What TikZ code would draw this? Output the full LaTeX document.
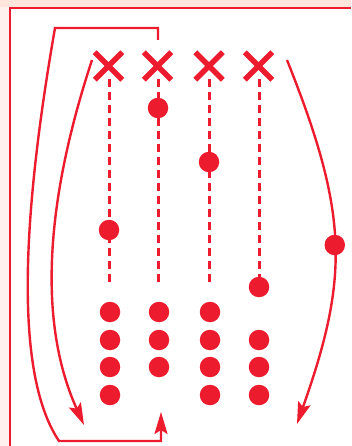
\documentclass[tikz,border=0pt]{standalone}
\usetikzlibrary{shapes.misc,arrows.meta}
\definecolor{myred}{RGB}{237,27,46}
\definecolor{peachT}{RGB}{255,229,220}
\definecolor{peachL}{RGB}{255,241,237}
\tikzset{
  dot/.style={circle, fill=myred, minimum size=20.5pt, inner sep=0pt},
  xmark/.style={cross out, draw=myred, line width=5.5pt, minimum size=22pt, inner sep=0pt},
  dashline/.style={draw=myred, line width=3pt, dash pattern=on 8pt off 5pt},
  arcline/.style={draw=myred, line width=2.4pt, -{Stealth[length=22pt,width=13pt,inset=4pt]}},
}
\begin{document}
\begin{tikzpicture}[x=1pt,y=-1pt]
\useasboundingbox (0,0) rectangle (351,446);
\fill[peachL] (0,0) rectangle (351,446);
\fill[peachT] (0,0) rectangle (351,7.5);
\fill[white] (10,8) rectangle (351,446);
\draw[myred, line width=1.4pt] (10,446) -- (10,8) -- (351,8);

% crosses
\node[xmark] (x1) at (108.5,66) {};
\node[xmark] (x2) at (157.5,66) {};
\node[xmark] (x3) at (209,66) {};
\node[xmark] (x4) at (258.5,66) {};

% dashed ends
\coordinate (e1) at (109,285);
\coordinate (e2) at (158,285);
\coordinate (e3) at (209,285);
\coordinate (e4) at (259,287);
\draw[dashline] (109,79) -- (e1);
\draw[dashline] (158,79) -- (e2);
\draw[dashline] (209,79) -- (e3);
\draw[dashline] (259,79) -- (e4);

% dots on lines
\node[dot] (d1) at (109,230) {};
\node[dot] (d2) at (158,108) {};
\node[dot] (d3) at (209,162) {};
\node[dot] (d4) at (e4) {};

% bottom dots
\foreach \r/\y in {1/312,2/340,3/367,4/395}{
  \node[dot] (a\r) at (110,\y) {};
  \node[dot] (c\r) at (210,\y) {};
}
\foreach \r/\y in {1/312,2/340,3/367}{
  \node[dot] (b\r) at (159,\y) {};
}
\foreach \r/\y in {2/340,3/367,4/395}{
  \node[dot] (f\r) at (259,\y) {};
}

% arcs
\coordinate (ra) at (287,60);
\coordinate (rb) at (297,424);
\draw[arcline] (ra) .. controls (349,215) and (349,277) .. (rb)
  node[dot, pos=0.5] (rd) {};

\coordinate (la) at (92,60);
\coordinate (lb) at (84,425);
\draw[arcline] (la) .. controls (41,215) and (41,330) .. (lb);

\coordinate (oa) at (158,40);
\coordinate (ob) at (161,412);
\draw[arcline] (oa) -- (158,28) -- (55,28) .. controls (18,240) and (18,380) .. (59,441) -- (161,441) -- (ob);
\end{tikzpicture}
\end{document}
